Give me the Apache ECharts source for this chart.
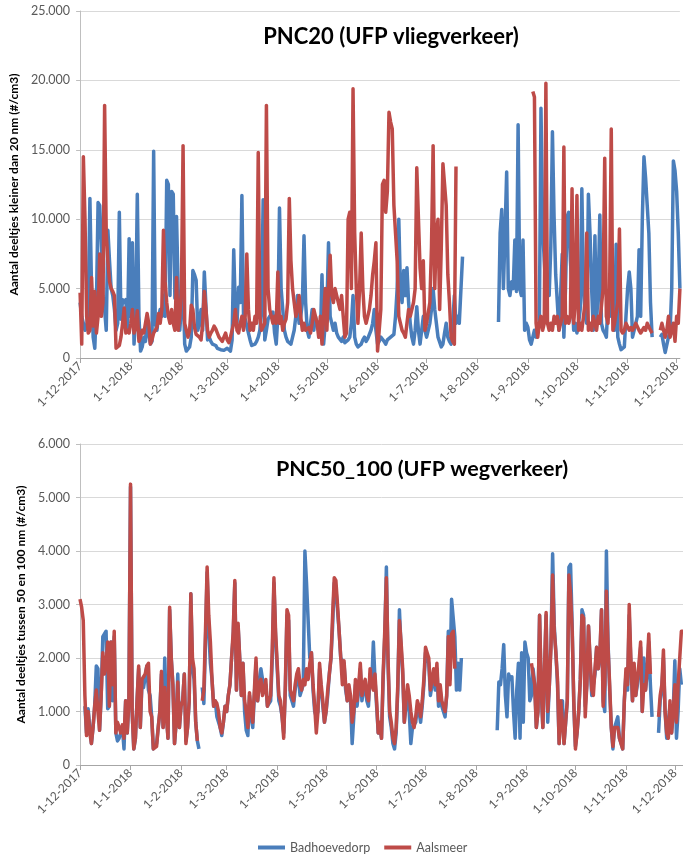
<!DOCTYPE html>
<html><head><meta charset="utf-8">
<script src="https://cdn.jsdelivr.net/npm/echarts@6/dist/echarts.min.js"></script>
<style>html,body{margin:0;padding:0;background:#fff}#c{width:683px;height:855px}</style>
</head><body><div id="c"></div>
<script>
const _ = null;
// Category dates (daily), 1-12-2017 onwards
function makeDates(n){const out=[];for(let i=0;i<n;i++){const d=new Date(Date.UTC(2017,11,1+i));out.push(d.getUTCDate()+'-'+(d.getUTCMonth()+1)+'-'+d.getUTCFullYear());}return out;}
const datesTop = makeDates(368);
const datesBottom = makeDates(371);
const yTicksTop = [0,5000,10000,15000,20000,25000];
const yTicksBottom = [0,1000,2000,3000,4000,5000,6000];
const seriesNames = ['Badhoevedorp','Aalsmeer'];
const titleTop = 'PNC20 (UFP vliegverkeer)';
const titleBottom = 'PNC50_100 (UFP wegverkeer)';
const yNameTop = 'Aantal deeltjes kleiner dan 20 nm (#/cm3)';
const yNameBottom = 'Aantal deeltjes tussen 50 en 100 nm (#/cm3)';

const badhoevedorp20 = [
4000,3000,2500,2000,2200,3500,11500,5000,1500,700,
4000,11200,11000,8000,4500,3500,2000,9200,7000,5000,
4500,3500,2000,2500,10500,2800,4200,4000,4200,2000,
8600,3000,8300,1000,3000,11800,3000,500,800,1500,
1200,2500,1800,1000,1200,14900,2500,2000,3000,3500,
3000,4500,3000,12800,12500,4500,12000,11800,4300,10200,
5000,2000,2000,5500,1000,500,600,800,1500,6300,
6000,5600,2000,2500,3500,2000,6200,6100,1300,1500,
1200,1000,1100,900,700,650,600,600,550,600,
700,600,500,1300,7800,3500,2500,5100,4000,11700,
3000,2800,2700,1800,1300,900,800,1000,1200,1500,
2000,3500,11400,1300,2000,2800,3000,3000,3300,1800,
1000,3000,10800,5000,3500,2000,1500,1200,1100,1000,
1500,2000,3000,4500,2500,3000,4000,8800,4000,2000,
1500,2500,3500,2000,3000,2500,2000,1500,6000,1000,
2500,3500,8300,3000,2500,2000,2500,1800,1500,1500,
1200,1500,1100,1000,1300,1500,2500,4500,1500,1000,
800,900,1000,1300,1500,1200,1400,1500,2000,2500,
3500,2000,1000,1200,1500,1500,1200,1000,1300,1200,
1500,1500,1700,3000,5000,10000,5000,4000,6300,4500,
6500,4000,2500,1500,1000,2000,3700,2000,1000,2000,
3000,2000,1500,2000,2500,3500,5000,3500,2500,1500,
1500,800,1000,1800,2500,1500,1200,1000,2500,4500,
2500,3000,2500,2500,7300,_,_,_,_,_,
_,_,_,_,_,_,_,_,_,_,
_,_,_,_,_,_,2600,9000,10700,5000,
9000,13400,5000,4500,5500,5000,8500,4800,16800,5000,
4500,8500,2000,2500,2200,1300,1000,900,2000,1500,
2000,2500,18000,9500,7000,5000,6000,4500,8000,16300,
10200,6000,4000,2000,4500,7500,1500,5000,10200,10500,
7000,5000,2000,2500,1800,2500,3500,12200,5000,3000,
2500,11800,9000,5000,2000,8800,2500,5000,10300,2500,
2000,1800,1500,4000,3000,5500,3000,2000,8200,1500,
1000,600,500,800,3000,5000,6200,5000,1500,2000,
2000,3000,7800,3000,10000,14500,13000,11000,9000,4000,
1500,_,_,_,_,1500,1700,1000,400,300,
1500,2000,5000,14200,13500,12000,9000,5000
];
const aalsmeer20 = [
4700,1000,14500,10000,3000,1800,2000,5800,2300,4800,
1800,3000,7500,3000,4000,18200,9000,7000,5500,5000,
4800,4500,700,600,900,1500,2500,3600,1800,2000,
1800,2500,3500,1800,2200,3400,1200,1500,2000,1800,
2500,3200,2500,1000,1300,1800,2000,2200,3200,2500,
3500,9200,5500,4000,3000,2500,3500,2500,2000,5800,
2000,3000,5000,15300,2500,2000,1500,2000,3800,3500,
2200,1700,1800,1500,1300,2500,4800,3500,2000,1500,
1800,2000,2300,2100,1800,1500,1400,1200,1500,1800,
1300,1100,1500,1500,2500,3500,2000,1800,2500,3000,
2000,3000,7500,3500,2000,2500,2000,3000,2500,14800,
3000,2000,2000,2500,18200,5000,3500,3000,2500,3000,
2500,6200,2500,3000,2000,2500,2800,4000,11500,7000,
5000,4000,3000,3500,4500,3000,2000,2500,2000,2000,
2200,1800,2500,3500,3000,2500,1500,3000,1000,3000,
5000,2000,5000,7400,4500,4000,5000,4500,4000,3500,
4500,3000,1500,1800,10000,10500,5000,19400,9000,5000,
2500,5000,9000,5000,3000,2500,2500,3500,4500,6000,
7000,8300,500,2000,3500,12500,12800,10500,12000,17700,
17000,16500,11000,9000,7000,3000,2500,2000,1800,1500,
2500,3500,3000,3000,4000,5000,13700,13800,6500,5000,
7000,2000,2500,2500,4000,8000,15300,5000,9000,10000,
3500,8000,14000,12500,11000,6000,4000,1500,1200,1000,
13800,_,_,_,_,_,_,_,_,_,
_,_,_,_,_,_,_,_,_,_,
_,_,_,_,_,_,_,_,_,_,
_,_,_,_,_,_,_,_,_,_,
_,_,_,_,_,_,_,19200,18800,2500,
1500,2500,3000,2000,2500,19800,2500,2000,2500,2000,
3000,2500,3000,2000,2500,3000,15200,2500,3000,2500,
3000,12200,2500,4000,11700,2000,2500,2000,3000,4000,
9000,2000,2500,2000,3000,2500,2000,3000,2500,2500,
5000,14400,3000,2500,5000,16500,2000,2500,2500,4000,
9300,2000,1800,2000,2500,2500,2000,2200,2000,2200,
2500,2500,2000,1800,2000,2200,2000,2500,2500,2000,
1800,_,_,_,_,2000,2500,2000,1500,2000,
3000,1500,2000,2500,1200,3000,2500,5000
];
const badhoevedorp50 = [
_,_,_,1100,600,1050,700,400,700,1100,
1850,1800,650,1300,2400,2450,2500,1050,1100,2300,
1200,2400,600,450,500,600,700,300,1200,600,
1200,5200,1000,300,500,1200,1800,700,1500,1450,
1450,1850,1400,1300,900,300,300,400,700,1000,
1700,700,2000,1000,500,2900,2000,1500,400,800,
1700,700,1100,1200,1700,450,700,1200,3200,1800,
1600,800,450,300,_,1450,1150,2300,3600,2500,
1900,1600,1100,1200,900,900,700,550,800,1100,
1000,1300,1500,2000,2400,3400,1400,2600,2000,1300,
1900,1000,650,550,1300,900,700,1300,1900,1200,
1500,1800,1800,1400,1500,1100,1100,1200,2000,3400,
2400,1800,1200,1100,900,600,1400,2800,2700,1300,
1200,1100,1400,1600,1700,1300,1300,1500,4000,3400,
3400,2000,2100,1400,1000,900,1000,1800,1400,1100,
800,1000,1300,1700,2000,2600,3400,3300,2900,2500,
2000,2000,1900,1400,1200,1400,1200,400,900,1500,
1100,1400,1800,1200,1400,1500,1200,1100,1700,1500,
2300,1600,1100,600,700,500,1600,2400,3700,1900,
900,700,400,300,600,1400,2900,2200,1700,800,
1100,1300,1000,400,700,700,800,1100,1000,800,
1100,1500,2100,2000,1900,1300,1500,1700,1400,1800,
1100,1400,1100,1000,900,1300,2500,1600,3100,3100,
2400,1400,1900,1400,2000,_,_,_,_,_,
_,_,_,_,_,_,_,_,_,_,
_,_,_,_,_,_,650,1550,1500,1800,
2250,1300,900,1700,1600,1650,1000,500,1400,1900,
500,2100,800,2300,2100,2000,1200,1300,1800,1500,
700,1000,2800,1400,700,700,2800,800,1500,2300,
3950,2600,2100,1500,400,1100,1200,400,800,1200,
3700,3750,2600,1100,350,600,1000,1600,2900,2800,
1100,1500,2600,1900,1300,1300,1700,2200,1800,2000,
2900,1200,1000,4000,2300,1400,700,300,700,800,
900,500,400,300,1200,1700,1400,2800,1900,1200,
1800,1300,1500,1800,2200,1000,2000,1400,1700,2300,
1500,900,_,_,_,600,1200,1400,2000,1000,
500,500,1100,600,1000,1950,500,1000,1800,1500,_
];
const aalsmeer50 = [
3100,2950,2700,1300,550,1000,600,400,700,1100,
1400,1000,650,1300,2100,1700,1900,2300,1100,2300,
1500,2500,600,800,700,600,750,500,1200,600,
1200,5250,1000,300,500,1200,1850,700,1600,1650,
1700,1850,1900,1000,900,300,300,350,700,1000,
1750,700,1450,900,500,2950,2000,1500,400,800,
1550,700,1100,1200,1700,400,700,1200,3200,2000,
1800,800,450,_,_,1200,1400,2500,3700,2800,
2300,1600,1100,1200,1150,1000,700,600,800,1100,
1000,1300,1500,2000,2500,3450,1400,2650,2000,1300,
1900,1200,1000,700,1350,1000,800,1400,2000,1200,
1500,1600,1300,1400,1600,1100,1200,1300,2200,3500,
2500,1900,1300,1200,900,500,1500,2900,2800,1400,
1300,1200,1500,1700,1800,1500,1400,1600,1500,1800,
1600,1900,2100,1500,1100,600,1000,1900,1500,1200,
800,1000,1400,1700,2000,2800,3500,3450,3000,2500,
2000,1500,1950,1500,1200,1500,1300,800,1000,1600,
1200,1500,1900,1300,1500,1600,1300,1200,1800,1500,
1400,1700,1200,600,800,500,1700,2500,3500,2000,
1000,800,500,400,700,1500,2700,2300,1800,800,
1200,1500,1300,1000,800,700,900,1200,1100,900,
1200,1600,2200,2100,2000,1400,1600,1800,1500,1900,
1200,1500,1200,1100,1000,1300,2400,1500,2450,2500,
1800,_,_,_,_,_,_,_,_,_,
_,_,_,_,_,_,_,_,_,_,
_,_,_,_,_,_,_,_,_,_,
_,_,_,_,_,_,_,_,_,_,
_,_,_,_,_,_,_,1900,1700,1500,
700,1000,2800,1500,700,700,2850,1000,1500,2200,
3550,2500,2100,1600,400,1200,1200,400,800,1200,
3550,3200,2500,1200,300,600,1000,1600,2800,2750,
900,1500,2600,2000,1400,1300,1800,2200,1800,2100,
2900,1100,1500,3250,2200,1500,700,350,700,700,
700,500,400,300,1200,1800,1500,3000,2000,1200,
1900,1300,1600,1900,2300,1000,1500,1400,1800,2450,
1700,_,_,_,_,900,1300,1500,2150,1000,
600,500,1200,600,1000,1500,800,1500,2000,2500,2500
];

const BLUE = '#4A7EBB', RED = '#BE4B48';
const FONT = 'Lato, "Open Sans", sans-serif';
const fmt = v => String(v).replace(/\B(?=(\d{3})+(?!\d))/g, '.');
const isMonthStart = (i, v) => v.startsWith('1-');

function xAxis(gi, data){
  return {type:'category', gridIndex:gi, data, boundaryGap:false,
    axisLine:{lineStyle:{color:'#A6A6A6', width:1}},
    axisTick:{show:true, interval:isMonthStart, length:5, lineStyle:{color:'#A6A6A6'}},
    axisLabel:{interval:isMonthStart, rotate:45, margin:6, color:'#595959', fontSize:12, fontFamily:FONT},
    splitLine:{show:false}};
}
function yAxis(gi, ticks, name, gap){
  return {type:'value', gridIndex:gi, min:ticks[0], max:ticks[ticks.length-1], interval:ticks[1]-ticks[0],
    name, nameLocation:'middle', nameGap:gap, nameRotate:90,
    nameTextStyle:{color:'#000', fontWeight:'bold', fontSize:12, fontFamily:FONT},
    axisLine:{show:true, lineStyle:{color:'#BFBFBF'}},
    axisTick:{show:true, length:4, lineStyle:{color:'#BFBFBF'}},
    axisLabel:{formatter:fmt, color:'#595959', fontSize:12.5, fontFamily:FONT, margin:10},
    splitLine:{lineStyle:{color:'#D9D9D9', width:1}}};
}
function line(name, data, color, gi){
  return {name, type:'line', data, xAxisIndex:gi, yAxisIndex:gi, showSymbol:false, symbol:'none',
    connectNulls:false, lineStyle:{color, width:3.5, join:'round'}, itemStyle:{color}, emphasis:{disabled:true}};
}

const chart = echarts.init(document.getElementById('c'), null, {renderer:'canvas'});
chart.setOption({
  animation:false,
  backgroundColor:'#fff',
  grid:[{left:80, right:0, top:11, height:347}, {left:80, right:0, top:444, height:321}],
  xAxis:[xAxis(0, datesTop), xAxis(1, datesBottom)],
  yAxis:[yAxis(0, yTicksTop, yNameTop, 52.5), yAxis(1, yTicksBottom, yNameBottom, 41)],
  legend:{data:seriesNames, left:253, top:836, icon:'rect', itemWidth:27, itemHeight:4, itemGap:14,
    textStyle:{color:'#595959', fontSize:12.5, fontFamily:FONT}},
  graphic:[
    {type:'text', x:391, y:37, style:{text:titleTop, fill:'#000', font:'bold 22px '+FONT, textAlign:'center', textVerticalAlign:'middle'}},
    {type:'text', x:422, y:469, style:{text:titleBottom, fill:'#000', font:'bold 21.5px '+FONT, textAlign:'center', textVerticalAlign:'middle'}}
  ],
  series:[
    line(seriesNames[0], badhoevedorp20, BLUE, 0),
    line(seriesNames[1], aalsmeer20, RED, 0),
    line(seriesNames[0], badhoevedorp50, BLUE, 1),
    line(seriesNames[1], aalsmeer50, RED, 1)
  ]
});
</script></body></html>
